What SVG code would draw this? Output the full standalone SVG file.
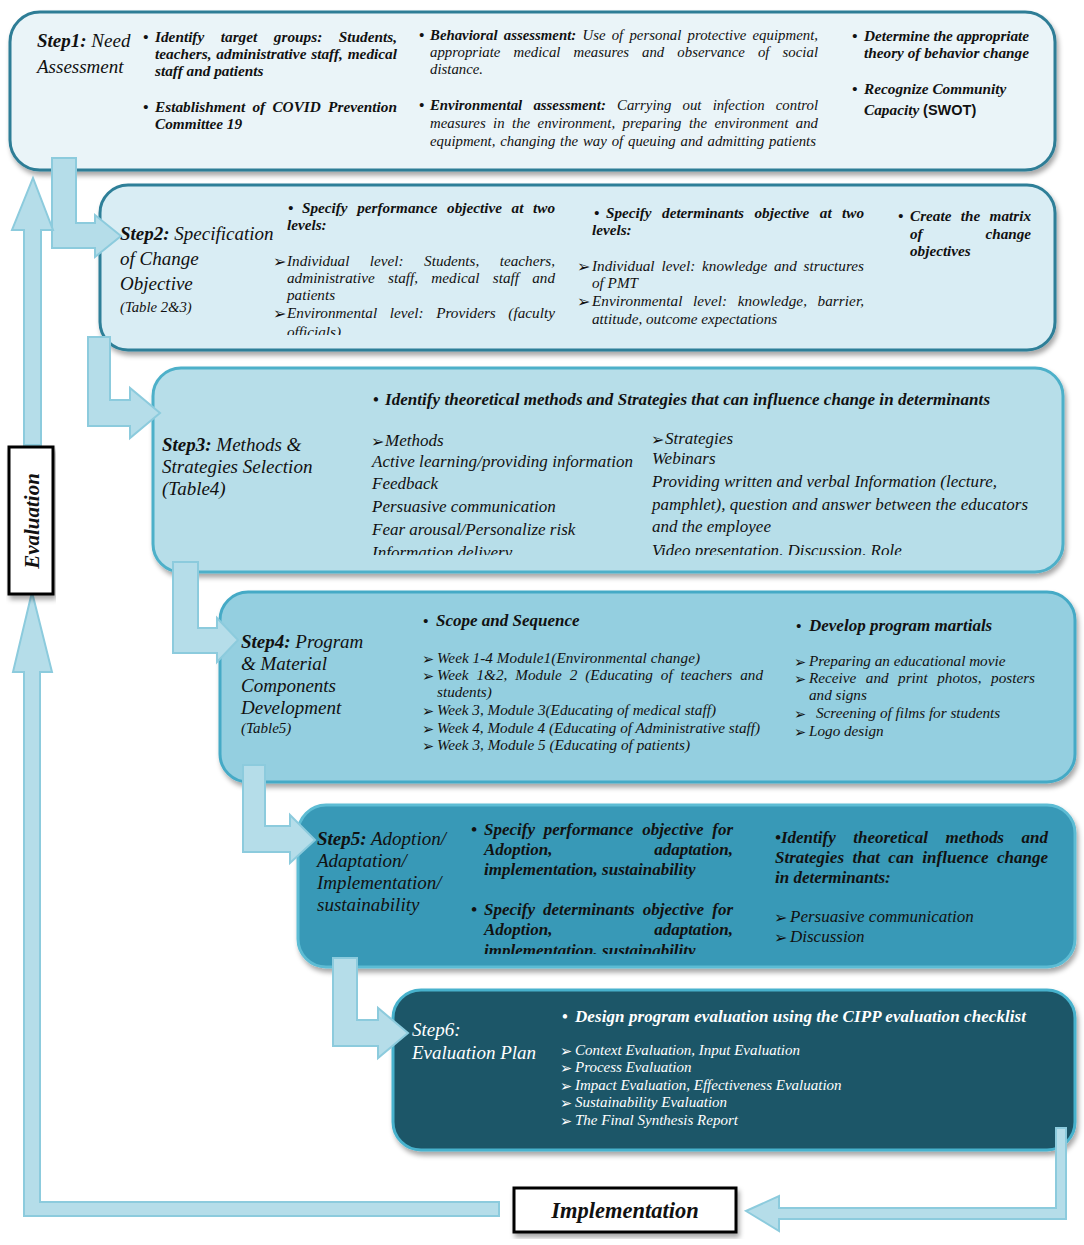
<svg xmlns="http://www.w3.org/2000/svg" width="1084" height="1245" viewBox="0 0 1084 1245">
<style>
text{font-family:"Liberation Serif","Times New Roman",serif;font-style:italic;fill:#111;}
.b{font-weight:bold;}
.w{fill:#fff;}
.sans{font-family:"Liberation Sans",Arial,sans-serif;font-style:normal;font-weight:bold;}
.ar{font-family:"DejaVu Sans",sans-serif;font-style:normal;}
.box{stroke-width:3;}
.conn{fill:#b5dde9;stroke:#8ccbdd;stroke-width:2;stroke-linejoin:miter;}
.lbl{fill:#fff;stroke:#000;stroke-width:3;}
.lab{font-size:19px;}
.s1{font-size:15.3px;}
.s1i{font-size:14.8px;}
.s2{font-size:15.2px;}
.s3{font-size:17px;}
.s4{font-size:15.2px;}
.s5{font-size:17px;}
.s6{font-size:15px;}
</style>
<defs>
<filter id="sh" x="-5%" y="-10%" width="110%" height="125%">
<feDropShadow dx="2" dy="4" stdDeviation="2.5" flood-color="#000" flood-opacity="0.35"/>
</filter>
<clipPath id="c2"><rect x="270" y="190" width="300" height="145"/></clipPath>
<clipPath id="c3"><rect x="360" y="380" width="680" height="175"/></clipPath>
<clipPath id="c5"><rect x="460" y="815" width="290" height="139"/></clipPath>
</defs>

<g id="step1">
<rect class="box" x="10" y="12" width="1045" height="158" rx="30" fill="#eaf4f8" stroke="#2d7d96" filter="url(#sh)"/>
<text x="37" y="47" class="lab"><tspan class="b">Step1:</tspan> Need</text>
<text x="37" y="73" class="lab">Assessment</text>
<g class="s1 b">
<text x="143" y="42">•</text>
<text x="155" y="42" word-spacing="12.7" textLength="242" lengthAdjust="spacing">Identify target groups: Students,</text>
<text x="155" y="59" word-spacing="1" textLength="242" lengthAdjust="spacing">teachers, administrative staff, medical</text>
<text x="155" y="76">staff and patients</text>
<text x="143" y="112">•</text>
<text x="155" y="112" word-spacing="3.4" textLength="242" lengthAdjust="spacing">Establishment of COVID Prevention</text>
<text x="155" y="129">Committee 19</text>
</g>
<g class="s1i">
<text x="419" y="40" class="b">•</text>
<text x="430" y="40" word-spacing="2.5" textLength="388" lengthAdjust="spacing"><tspan class="b">Behavioral assessment:</tspan> Use of personal protective equipment,</text>
<text x="430" y="57" word-spacing="9.3" textLength="388" lengthAdjust="spacing">appropriate medical measures and observance of social</text>
<text x="430" y="74">distance.</text>
<text x="419" y="110" class="b">•</text>
<text x="430" y="110" word-spacing="7.5" textLength="388" lengthAdjust="spacing"><tspan class="b">Environmental assessment:</tspan> Carrying out infection control</text>
<text x="430" y="128" word-spacing="3.6" textLength="388" lengthAdjust="spacing">measures in the environment, preparing the environment and</text>
<text x="430" y="146" word-spacing="1.1" textLength="386" lengthAdjust="spacing">equipment, changing the way of queuing and admitting patients</text>
</g>
<g class="s1 b">
<text x="852" y="41">•</text>
<text x="864" y="41" textLength="165" lengthAdjust="spacing">Determine the appropriate</text>
<text x="864" y="58" textLength="165" lengthAdjust="spacing">theory of behavior change</text>
<text x="852" y="94">•</text>
<text x="864" y="94">Recognize Community</text>
<text x="864" y="115">Capacity <tspan class="sans" font-size="14.5">(SWOT)</tspan></text>
</g>
</g>

<g id="step2">
<rect class="box" x="100" y="185" width="955" height="165" rx="28" fill="#d9edf4" stroke="#2d7f98" filter="url(#sh)"/>
<text x="120" y="240" class="lab"><tspan class="b">Step2:</tspan> Specification</text>
<text x="120" y="265" class="lab">of Change</text>
<text x="120" y="290" class="lab">Objective</text>
<text x="120" y="312" font-size="14.7">(Table 2&amp;3)</text>
<g class="s2" clip-path="url(#c2)">
<text x="288" y="213" class="b">•</text>
<text x="302" y="213" class="b" word-spacing="5.8" textLength="253" lengthAdjust="spacing">Specify performance objective at two</text>
<text x="287" y="230" class="b">levels:</text>
<text x="273" y="267" class="ar" font-size="16">➢</text>
<text x="287" y="266" word-spacing="16.7" textLength="268" lengthAdjust="spacing">Individual level: Students, teachers,</text>
<text x="287" y="283" word-spacing="9.5" textLength="268" lengthAdjust="spacing">administrative staff, medical staff and</text>
<text x="287" y="300">patients</text>
<text x="273" y="319" class="ar" font-size="16">➢</text>
<text x="287" y="318" word-spacing="8.7" textLength="268" lengthAdjust="spacing">Environmental level: Providers (faculty</text>
<text x="287" y="337">officials)</text>
</g>
<g class="s2">
<text x="594" y="218" class="b">•</text>
<text x="606" y="218" class="b" word-spacing="6.6" textLength="258" lengthAdjust="spacing">Specify determinants objective at two</text>
<text x="592" y="235" class="b">levels:</text>
<text x="577" y="272" class="ar" font-size="16">➢</text>
<text x="592" y="271" word-spacing="3" textLength="272" lengthAdjust="spacing">Individual level: knowledge and structures</text>
<text x="592" y="288">of PMT</text>
<text x="577" y="307" class="ar" font-size="16">➢</text>
<text x="592" y="306" word-spacing="6.7" textLength="272" lengthAdjust="spacing">Environmental level: knowledge, barrier,</text>
<text x="592" y="324">attitude, outcome expectations</text>
</g>
<g class="s2 b">
<text x="898" y="221">•</text>
<text x="910" y="221" word-spacing="5.6" textLength="121" lengthAdjust="spacing">Create the matrix</text>
<text x="910" y="239">of</text>
<text x="1031" y="239" text-anchor="end">change</text>
<text x="910" y="256">objectives</text>
</g>
</g>

<g id="step3">
<rect class="box" x="153" y="368" width="910" height="204" rx="28" fill="#b7dee9" stroke="#4db0c9" filter="url(#sh)"/>
<text x="162" y="451" class="lab"><tspan class="b">Step3:</tspan> Methods &amp;</text>
<text x="162" y="473" class="lab">Strategies Selection</text>
<text x="162" y="495" class="lab">(Table4)</text>
<text x="373" y="405" class="b" font-size="16">•</text>
<text x="385" y="405" class="b s3" textLength="605" lengthAdjust="spacing">Identify theoretical methods and Strategies that can influence change in determinants</text>
<g class="s3" clip-path="url(#c3)">
<text x="371" y="447" class="ar" font-size="16">➢</text>
<text x="385" y="446">Methods</text>
<text x="372" y="467" textLength="261" lengthAdjust="spacing">Active learning/providing information</text>
<text x="372" y="489">Feedback</text>
<text x="372" y="512">Persuasive communication</text>
<text x="372" y="535">Fear arousal/Personalize risk</text>
<text x="372" y="558">Information delivery</text>
<text x="651" y="445" class="ar" font-size="16">➢</text>
<text x="665" y="444">Strategies</text>
<text x="652" y="464">Webinars</text>
<text x="652" y="487" textLength="345" lengthAdjust="spacing">Providing written and verbal Information (lecture,</text>
<text x="652" y="510" textLength="376" lengthAdjust="spacing">pamphlet), question and answer between the educators</text>
<text x="652" y="532">and the employee</text>
<text x="652" y="556">Video presentation, Discussion, Role</text>
</g>
</g>

<g id="step4">
<rect class="box" x="220" y="592" width="855" height="190" rx="28" fill="#94cfe0" stroke="#45aac6" filter="url(#sh)"/>
<text x="241" y="648" class="lab"><tspan class="b">Step4:</tspan> Program</text>
<text x="241" y="670" class="lab">&amp; Material</text>
<text x="241" y="692" class="lab">Components</text>
<text x="241" y="714" class="lab">Development</text>
<text x="241" y="733" font-size="15">(Table5)</text>
<text x="423" y="626" class="b" font-size="15">•</text>
<text x="436" y="626" class="b s3">Scope and Sequence</text>
<g class="s4">
<text x="422" y="664" class="ar" font-size="14.5">➢</text>
<text x="437" y="663" textLength="263" lengthAdjust="spacing">Week 1-4 Module1(Environmental change)</text>
<text x="422" y="681" class="ar" font-size="14.5">➢</text>
<text x="437" y="680" word-spacing="4" textLength="326" lengthAdjust="spacing">Week 1&amp;2, Module 2 (Educating of teachers and</text>
<text x="437" y="697">students)</text>
<text x="422" y="716" class="ar" font-size="14.5">➢</text>
<text x="437" y="715" textLength="279" lengthAdjust="spacing">Week 3, Module 3(Educating of medical staff)</text>
<text x="422" y="734" class="ar" font-size="14.5">➢</text>
<text x="437" y="733" textLength="323" lengthAdjust="spacing">Week 4, Module 4 (Educating of Administrative staff)</text>
<text x="422" y="751" class="ar" font-size="14.5">➢</text>
<text x="437" y="750" textLength="253" lengthAdjust="spacing">Week 3, Module 5 (Educating of patients)</text>
</g>
<text x="796" y="631" class="b" font-size="15">•</text>
<text x="809" y="631" class="b s3">Develop program martials</text>
<g class="s4">
<text x="794" y="667" class="ar" font-size="14.5">➢</text>
<text x="809" y="666">Preparing an educational movie</text>
<text x="794" y="684" class="ar" font-size="14.5">➢</text>
<text x="809" y="683" word-spacing="5.7" textLength="226" lengthAdjust="spacing">Receive and print photos, posters</text>
<text x="809" y="700">and signs</text>
<text x="794" y="719" class="ar" font-size="14.5">➢</text>
<text x="816" y="718">Screening of films for students</text>
<text x="794" y="737" class="ar" font-size="14.5">➢</text>
<text x="809" y="736">Logo design</text>
</g>
</g>

<g id="step5">
<rect class="box" x="298" y="805" width="777" height="162" rx="28" fill="#3899b7" stroke="#5dbcd4" filter="url(#sh)"/>
<text x="317" y="845" class="lab"><tspan class="b">Step5:</tspan> Adoption/</text>
<text x="317" y="867" class="lab">Adaptation/</text>
<text x="317" y="889" class="lab">Implementation/</text>
<text x="317" y="911" class="lab">sustainability</text>
<g class="s5 b" clip-path="url(#c5)">
<text x="471" y="835">•</text>
<text x="484" y="835" word-spacing="4.5" textLength="249" lengthAdjust="spacing">Specify performance objective for</text>
<text x="484" y="855">Adoption,</text>
<text x="733" y="855" text-anchor="end">adaptation,</text>
<text x="484" y="875">implementation, sustainability</text>
<text x="471" y="915">•</text>
<text x="484" y="915" word-spacing="3.8" textLength="249" lengthAdjust="spacing">Specify determinants objective for</text>
<text x="484" y="935">Adoption,</text>
<text x="733" y="935" text-anchor="end">adaptation,</text>
<text x="484" y="956">implementation, sustainability</text>
</g>
<g class="s5 b">
<text x="775" y="843" word-spacing="13.3" textLength="273" lengthAdjust="spacing">•Identify theoretical methods and</text>
<text x="775" y="863" word-spacing="4.2" textLength="273" lengthAdjust="spacing">Strategies that can influence change</text>
<text x="775" y="883">in determinants:</text>
</g>
<g class="s5">
<text x="774" y="923" class="ar" font-size="16">➢</text>
<text x="790" y="922">Persuasive communication</text>
<text x="774" y="943" class="ar" font-size="16">➢</text>
<text x="790" y="942">Discussion</text>
</g>
</g>

<g id="step6">
<rect class="box" x="393" y="990" width="682" height="160" rx="28" fill="#1f5667" stroke="#47b2cd" filter="url(#sh)"/>
<text x="412" y="1036" class="w lab">Step6:</text>
<text x="412" y="1059" class="w lab">Evaluation Plan</text>
<text x="562" y="1022" class="w b" font-size="16">•</text>
<text x="575" y="1022" class="w b s3" textLength="451" lengthAdjust="spacing">Design program evaluation using the CIPP evaluation checklist</text>
<g class="s6">
<text x="560" y="1056" class="w ar" font-size="14.5">➢</text>
<text x="575" y="1055" class="w">Context Evaluation, Input Evaluation</text>
<text x="560" y="1073" class="w ar" font-size="14.5">➢</text>
<text x="575" y="1072" class="w">Process Evaluation</text>
<text x="560" y="1091" class="w ar" font-size="14.5">➢</text>
<text x="575" y="1090" class="w">Impact Evaluation, Effectiveness Evaluation</text>
<text x="560" y="1108" class="w ar" font-size="14.5">➢</text>
<text x="575" y="1107" class="w">Sustainability Evaluation</text>
<text x="560" y="1126" class="w ar" font-size="14.5">➢</text>
<text x="575" y="1125" class="w">The Final Synthesis Report</text>
</g>
</g>

<g id="connectors">
<polygon class="conn" points="52,158 76,158 76,223 95,223 95,215 121,236 95,257 95,248 52,248"/>
<polygon class="conn" points="88,337 110,337 110,400 130,400 130,388 160,413 130,438 130,426 88,426"/>
<polygon class="conn" points="173,562 198,562 198,628 217,628 217,618 238,640 217,662 217,653 173,653"/>
<polygon class="conn" points="243,765 265,765 265,826 290,826 290,815 315,840 290,863 290,852 243,852"/>
<polygon class="conn" points="333,958 357,958 357,1020 378,1020 378,1008 408,1033 378,1058 378,1046 333,1046"/>
<polygon class="conn" points="1056,1128 1066,1128 1066,1219 779,1219 779,1231 746,1211 779,1196 779,1208 1056,1208"/>
<polygon class="conn" points="499,1202 40,1202 40,672 52,672 32,592 13,672 24,672 24,1216 499,1216"/>
<polygon class="conn" points="24,445 24,230 12,230 33,178 53,230 41,230 41,445"/>
</g>

<g id="evaluation">
<rect class="lbl" x="9" y="447" width="44" height="147" filter="url(#sh)"/>
<text x="0" y="0" class="b" font-size="21" text-anchor="middle" transform="translate(39,521) rotate(-90)">Evaluation</text>
</g>

<g id="implementation">
<rect class="lbl" x="514" y="1188" width="222" height="44" filter="url(#sh)"/>
<text x="625" y="1218" class="b" font-size="22.5" text-anchor="middle">Implementation</text>
</g>
</svg>
